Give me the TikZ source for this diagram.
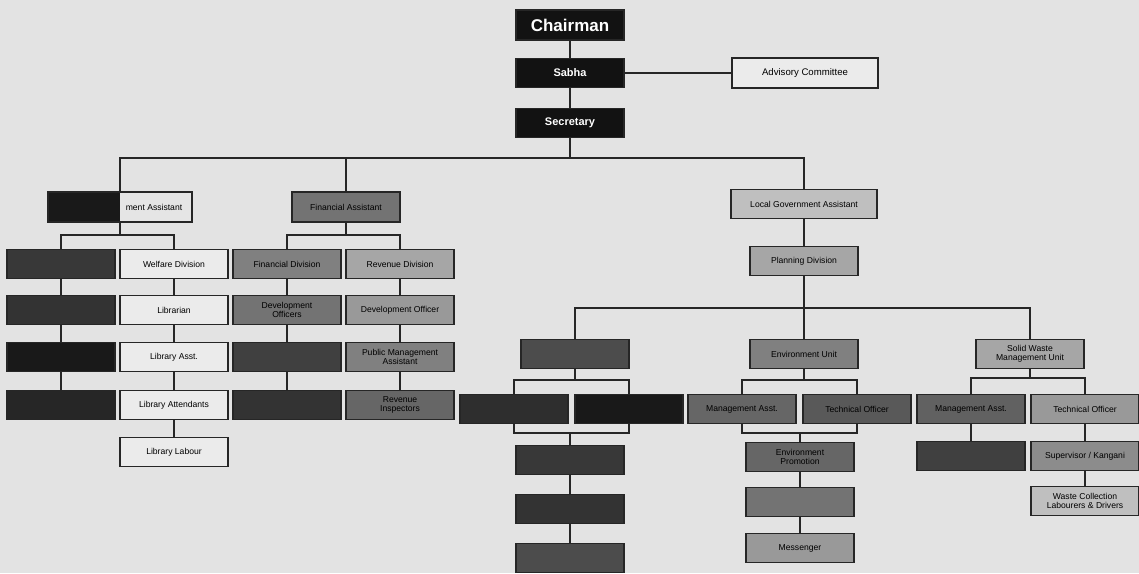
\documentclass[tikz,border=0pt]{standalone}
\usepackage{fontspec}
\setmainfont{Liberation Sans}
\setsansfont{Liberation Sans}
\begin{document}
\begin{tikzpicture}[x=1pt,y=-1pt,
  box/.style={draw=black!85, line width=1.1pt, minimum width=108pt, minimum height=29pt, inner sep=1pt, align=center, font=\fontsize{8.6}{9.4}\selectfont\sffamily, text=black},
  top/.style={box, fill=black!93, text=white, font=\fontsize{11}{12}\selectfont\bfseries\sffamily},
  light/.style={box, fill=white!92!black},
  dk/.style={box, fill=black!80},
  ln/.style={line width=1.1pt, draw=black!85}]
\useasboundingbox (0,0) rectangle (1139,573);
\fill[black!11] (0,0) rectangle (1139,573);

% top
\node[top, minimum height=30pt, font=\fontsize{17}{18}\selectfont\bfseries\sffamily] (ch) at (570,25) {Chairman};
\node[top] (sab) at (570,73) {Sabha};
\node[top] (sec) at (570,123) {Secretary};
\node[light, minimum width=146pt, minimum height=30pt, font=\fontsize{9.6}{10}\selectfont\sffamily] (adv) at (805,73) {Advisory Committee};

% second level
\fill[white!90!black] (48,192) rectangle (192,222);
\fill[black!90] (48,192) rectangle (120,222);
\node[box, minimum width=144pt, minimum height=30pt, fill=none] (lga1) at (120,207) {\hspace*{68pt}ment Assistant};
\node[box, fill=black!55, minimum height=30pt] (fa) at (346,207) {Financial Assistant};
\node[box, fill=black!25, minimum width=146pt] (lga2) at (804,204) {Local Government Assistant};

% left group
\node[dk, fill=black!78] (l1) at (61,264) {};
\node[dk, fill=black!80] (l2) at (61,310) {};
\node[dk, fill=black!90] (l3) at (61,357) {};
\node[dk, fill=black!85] (l4) at (61,405) {};
\node[light] (r1) at (174,264) {Welfare Division};
\node[light] (r2) at (174,310) {Librarian};
\node[light] (r3) at (174,357) {Library Asst.};
\node[light] (r4) at (174,405) {Library Attendants};
\node[light] (r5) at (174,452) {Library Labour};

% middle group
\node[box, fill=black!50] (f1) at (287,264) {Financial Division};
\node[box, fill=black!55] (f2) at (287,310) {Development\\Officers};
\node[box, fill=black!75] (f3) at (287,357) {};
\node[box, fill=black!80] (f4) at (287,405) {};
\node[box, fill=black!35] (g1) at (400,264) {Revenue Division};
\node[box, fill=black!40] (g2) at (400,310) {Development Officer};
\node[box, fill=black!50] (g3) at (400,357) {Public Management\\Assistant};
\node[box, fill=black!60] (g4) at (400,405) {Revenue\\Inspectors};

% right group
\node[box, fill=black!35] (pd) at (804,261) {Planning Division};
\node[box, fill=black!70] (u1) at (575,354) {};
\node[box, fill=black!50] (u2) at (804,354) {Environment Unit};
\node[box, fill=black!35] (u3) at (1030,354) {Solid Waste\\Management Unit};

\node[box, fill=black!82] (a1) at (514,409) {};
\node[box, fill=black!90] (a2) at (629,409) {};
\node[box, fill=black!78] (a3) at (570,460) {};
\node[box, fill=black!80] (a4) at (570,509) {};
\node[box, fill=black!70] (a5) at (570,558) {};

\node[box, fill=black!60] (e1) at (742,409) {Management Asst.};
\node[box, fill=black!65] (e2) at (857,409) {Technical Officer};
\node[box, fill=black!60] (e3) at (800,457) {Environment\\Promotion};
\node[box, fill=black!55] (e4) at (800,502) {};
\node[box, fill=black!40] (e5) at (800,548) {Messenger};

\node[box, fill=black!62] (s1) at (971,409) {Management Asst.};
\node[box, fill=black!40] (s2) at (1085,409) {Technical Officer};
\node[box, fill=black!75] (s3) at (971,456) {};
\node[box, fill=black!45] (s4) at (1085,456) {Supervisor / Kangani};
\node[box, fill=black!25] (s5) at (1085,501) {Waste Collection\\Labourers \& Drivers};

% connectors
\draw[ln] (ch) -- (sab);
\draw[ln] (sab) -- (sec);
\draw[ln] (sab) -- (adv);
\coordinate (b1) at (570,158);
\draw[ln] (sec) -- (b1);
\draw[ln] (lga1.north) |- (b1) -| (lga2.north);
\draw[ln] (fa.north) -- (fa.north |- b1);

\coordinate (b2) at (120,235);
\draw[ln] (lga1.south) -- (b2);
\draw[ln] (l1.north) |- (b2) -| (r1.north);
\draw[ln] (l1) -- (l2); \draw[ln] (l2) -- (l3); \draw[ln] (l3) -- (l4);
\draw[ln] (r1) -- (r2); \draw[ln] (r2) -- (r3); \draw[ln] (r3) -- (r4); \draw[ln] (r4) -- (r5);

\coordinate (b3) at (346,235);
\draw[ln] (fa.south) -- (b3);
\draw[ln] (f1.north) |- (b3) -| (g1.north);
\draw[ln] (f1) -- (f2); \draw[ln] (f2) -- (f3); \draw[ln] (f3) -- (f4);
\draw[ln] (g1) -- (g2); \draw[ln] (g2) -- (g3); \draw[ln] (g3) -- (g4);

\draw[ln] (lga2) -- (pd);
\coordinate (b4) at (804,308);
\draw[ln] (pd.south) -- (b4);
\draw[ln] (u1.north) |- (b4) -| (u3.north);
\draw[ln] (u2.north) -- (b4);

\coordinate (b5) at (575,380);
\draw[ln] (u1.south) -- (b5);
\draw[ln] (a1.north) |- (b5) -| (a2.north);
\coordinate (c5) at (570,433);
\draw[ln] (a1.south) |- (c5) -| (a2.south);
\draw[ln] (c5) -- (a3.north);
\draw[ln] (a3) -- (a4); \draw[ln] (a4) -- (a5);

\coordinate (b6) at (804,380);
\draw[ln] (u2.south) -- (b6);
\draw[ln] (e1.north) |- (b6) -| (e2.north);
\coordinate (c6) at (800,433);
\draw[ln] (e1.south) |- (c6) -| (e2.south);
\draw[ln] (c6) -- (e3.north);
\draw[ln] (e3) -- (e4); \draw[ln] (e4) -- (e5);

\coordinate (b7) at (1030,378);
\draw[ln] (u3.south) -- (b7);
\draw[ln] (s1.north) |- (b7) -| (s2.north);
\draw[ln] (s1) -- (s3);
\draw[ln] (s2) -- (s4); \draw[ln] (s4) -- (s5);
\end{tikzpicture}
\end{document}
